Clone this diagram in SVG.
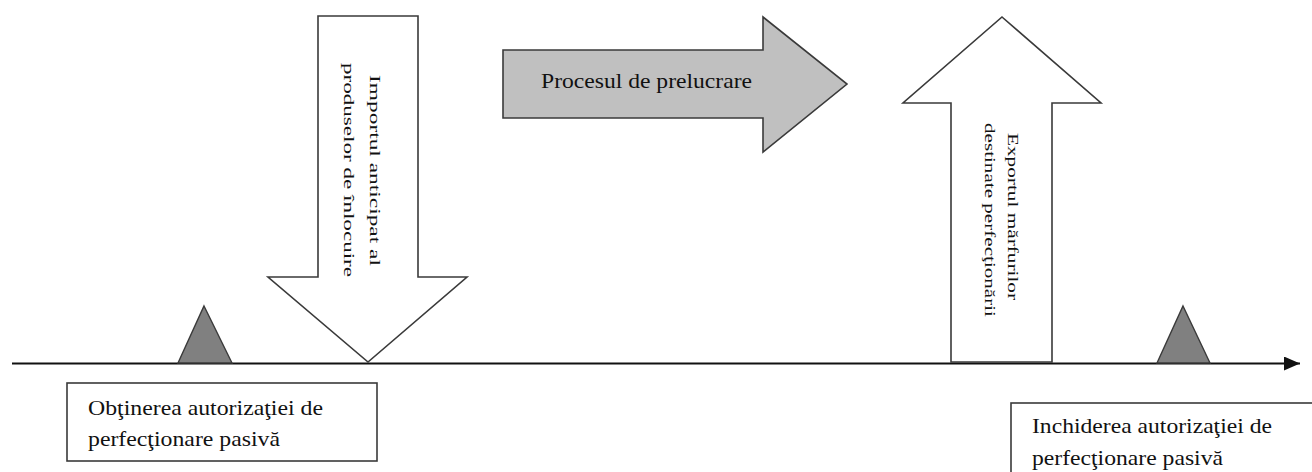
<svg xmlns="http://www.w3.org/2000/svg" width="1312" height="472" viewBox="0 0 1312 472">
<style>
.shape{stroke:#3a3a3a;stroke-width:1.6;stroke-linejoin:miter}
.white{fill:#ffffff}
.grey{fill:#c0c0c0}
.tri{fill:#808080;stroke:#3a3a3a;stroke-width:1.4}
.box{fill:#ffffff;stroke:#3a3a3a;stroke-width:1.6}
.t{fill:#111111}
.h{font-size:22px}
.v{font-size:15px}
</style>
<defs>
<marker id="axisHead" viewBox="0 0 16 14" refX="16" refY="7" markerWidth="16" markerHeight="14" markerUnits="userSpaceOnUse" orient="auto">
<path d="M0,0 L16,7 L0,14 Z" fill="#111111"/>
</marker>
</defs>
<rect width="1312" height="472" fill="#ffffff"/>
<g id="connectors">
<line x1="12" y1="363.5" x2="1300" y2="363.5" stroke="#111111" stroke-width="2" marker-end="url(#axisHead)"/>
</g>
<g font-family="'Liberation Serif', 'Times New Roman', serif">
<g id="node-import">
<polygon class="shape white" points="318,16 418,16 418,277 467,277 368,362 268,277 318,277"/>
<text class="t v" text-anchor="middle" transform="translate(370,170.5) rotate(90)" textLength="191" lengthAdjust="spacingAndGlyphs">Importul anticipat al</text>
<text class="t v" text-anchor="middle" transform="translate(344,170) rotate(90)" textLength="214" lengthAdjust="spacingAndGlyphs">produselor de înlocuire</text>
</g>
<g id="node-process">
<polygon class="shape grey" points="503,50 763,50 763,17 847,84 763,152 763,118 503,118"/>
<text class="t h" x="541" y="88" textLength="211" lengthAdjust="spacingAndGlyphs">Procesul de prelucrare</text>
</g>
<g id="node-export">
<polygon class="shape white" points="1002,17 1101,103 1052,103 1052,362 951,362 951,103 903,103"/>
<text class="t v" text-anchor="middle" transform="translate(1008,216.5) rotate(90)" textLength="167" lengthAdjust="spacingAndGlyphs">Exportul mărfurilor</text>
<text class="t v" text-anchor="middle" transform="translate(985,220) rotate(90)" textLength="194" lengthAdjust="spacingAndGlyphs">destinate perfecţionării</text>
</g>
<g id="node-start-marker">
<polygon class="tri" points="204,306 232,363 178,363"/>
</g>
<g id="node-end-marker">
<polygon class="tri" points="1183,306 1210,363 1157,363"/>
</g>
<g id="node-start-box">
<rect class="box" x="67" y="383" width="310" height="78"/>
<text class="t h" x="88" y="415" textLength="235" lengthAdjust="spacingAndGlyphs">Obţinerea autorizaţiei de</text>
<text class="t h" x="88" y="446" textLength="192" lengthAdjust="spacingAndGlyphs">perfecţionare pasivă</text>
</g>
<g id="node-end-box">
<rect class="box" x="1011" y="403" width="320" height="100"/>
<text class="t h" x="1032" y="433" textLength="240" lengthAdjust="spacingAndGlyphs">Inchiderea autorizaţiei de</text>
<text class="t h" x="1032" y="465" textLength="191" lengthAdjust="spacingAndGlyphs">perfecţionare pasivă</text>
</g>
</g>
</svg>
